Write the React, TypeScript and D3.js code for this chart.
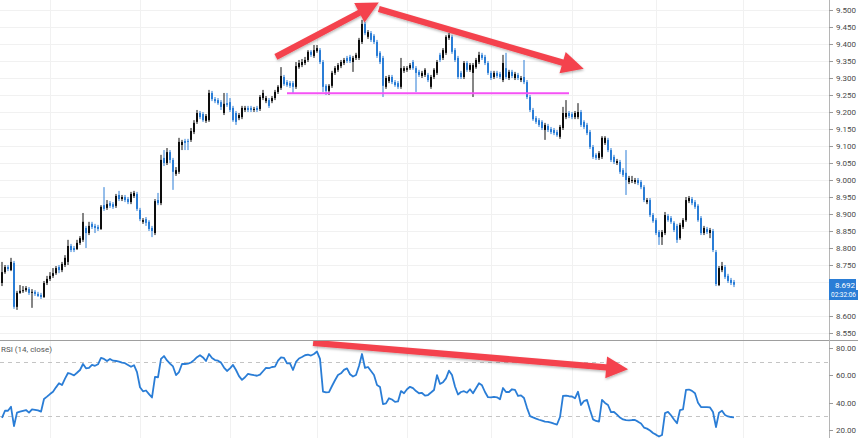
import React from 'react';
import * as d3 from 'd3';

const opens = [
  8.697, 8.729, 8.744, 8.735, 8.756, 8.627, 8.668, 8.674, 8.676, 8.679,
  8.668, 8.671, 8.665, 8.662, 8.656, 8.697, 8.709, 8.718, 8.726, 8.744,
  8.735, 8.750, 8.759, 8.806, 8.800, 8.797, 8.815, 8.824, 8.859, 8.844,
  8.871, 8.865, 8.862, 8.856, 8.926, 8.918, 8.932, 8.929, 8.924, 8.956,
  8.944, 8.950, 8.944, 8.935, 8.953, 8.959, 8.912, 8.877, 8.885, 8.877,
  8.859, 8.844, 8.941, 8.932, 9.065, 9.050, 9.082, 9.059, 9.018, 9.024,
  9.103, 9.115, 9.115, 9.118, 9.141, 9.171, 9.197, 9.194, 9.174, 9.176,
  9.256, 9.238, 9.235, 9.229, 9.197, 9.226, 9.229, 9.212, 9.197, 9.182,
  9.185, 9.206, 9.212, 9.212, 9.206, 9.212, 9.209, 9.241, 9.232, 9.235,
  9.232, 9.241, 9.259, 9.271, 9.303, 9.288, 9.285, 9.285, 9.274, 9.332,
  9.338, 9.344, 9.353, 9.377, 9.365, 9.379, 9.382, 9.347, 9.277, 9.262,
  9.277, 9.315, 9.324, 9.335, 9.344, 9.359, 9.362, 9.347, 9.359, 9.359,
  9.406, 9.459, 9.421, 9.432, 9.424, 9.406, 9.374, 9.359, 9.274, 9.291,
  9.303, 9.288, 9.285, 9.274, 9.321, 9.324, 9.329, 9.347, 9.329, 9.318,
  9.306, 9.309, 9.309, 9.274, 9.303, 9.315, 9.368, 9.359, 9.374, 9.418,
  9.421, 9.382, 9.359, 9.315, 9.303, 9.344, 9.324, 9.315, 9.332, 9.347,
  9.368, 9.362, 9.344, 9.315, 9.303, 9.315, 9.312, 9.294, 9.329, 9.300,
  9.318, 9.300, 9.309, 9.294, 9.303, 9.288, 9.244, 9.206, 9.182, 9.176,
  9.171, 9.147, 9.159, 9.150, 9.147, 9.141, 9.127, 9.153, 9.185, 9.197,
  9.194, 9.185, 9.185, 9.200, 9.171, 9.162, 9.141, 9.097, 9.074, 9.065,
  9.068, 9.109, 9.118, 9.088, 9.068, 9.050, 9.053, 9.029, 9.021, 8.994,
  8.997, 8.994, 9.000, 8.994, 8.979, 8.935, 8.941, 8.897, 8.882, 8.847,
  8.832, 8.844, 8.894, 8.888, 8.874, 8.865, 8.829, 8.862, 8.882, 8.938,
  8.944, 8.935, 8.924, 8.888, 8.844, 8.856, 8.844, 8.850, 8.788, 8.691,
  8.735, 8.744, 8.718, 8.706, 8.700,
];

const highs = [
  8.759, 8.750, 8.750, 8.771, 8.762, 8.674, 8.691, 8.688, 8.688, 8.685,
  8.679, 8.676, 8.671, 8.668, 8.703, 8.718, 8.729, 8.741, 8.747, 8.750,
  8.759, 8.779, 8.824, 8.812, 8.806, 8.824, 8.835, 8.903, 8.865, 8.877,
  8.877, 8.871, 8.868, 8.926, 8.979, 8.941, 8.938, 8.935, 8.959, 8.968,
  8.956, 8.956, 8.950, 8.965, 8.968, 8.965, 8.918, 8.888, 8.891, 8.882,
  8.865, 8.944, 8.962, 9.074, 9.088, 9.094, 9.088, 9.065, 9.038, 9.124,
  9.118, 9.121, 9.121, 9.153, 9.176, 9.206, 9.203, 9.200, 9.194, 9.265,
  9.262, 9.244, 9.241, 9.235, 9.256, 9.256, 9.241, 9.218, 9.203, 9.197,
  9.218, 9.218, 9.218, 9.218, 9.215, 9.218, 9.250, 9.265, 9.247, 9.241,
  9.247, 9.265, 9.279, 9.332, 9.309, 9.294, 9.291, 9.291, 9.347, 9.353,
  9.356, 9.362, 9.382, 9.382, 9.397, 9.397, 9.388, 9.353, 9.282, 9.282,
  9.321, 9.335, 9.344, 9.353, 9.359, 9.365, 9.368, 9.365, 9.374, 9.418,
  9.471, 9.465, 9.441, 9.438, 9.429, 9.412, 9.379, 9.365, 9.306, 9.309,
  9.309, 9.294, 9.291, 9.359, 9.335, 9.335, 9.344, 9.353, 9.335, 9.324,
  9.321, 9.329, 9.315, 9.309, 9.329, 9.353, 9.374, 9.388, 9.426, 9.432,
  9.426, 9.388, 9.365, 9.321, 9.350, 9.350, 9.344, 9.344, 9.359, 9.377,
  9.374, 9.368, 9.350, 9.321, 9.321, 9.321, 9.318, 9.368, 9.374, 9.324,
  9.324, 9.318, 9.315, 9.306, 9.353, 9.294, 9.250, 9.212, 9.188, 9.182,
  9.176, 9.168, 9.165, 9.156, 9.153, 9.147, 9.162, 9.215, 9.235, 9.203,
  9.200, 9.203, 9.226, 9.206, 9.176, 9.168, 9.147, 9.103, 9.079, 9.085,
  9.129, 9.129, 9.124, 9.094, 9.074, 9.062, 9.059, 9.035, 9.088, 9.012,
  9.012, 9.006, 9.006, 9.000, 8.985, 8.947, 8.947, 8.903, 8.888, 8.853,
  8.853, 8.906, 8.900, 8.894, 8.879, 8.871, 8.874, 8.888, 8.950, 8.953,
  8.950, 8.941, 8.929, 8.894, 8.865, 8.862, 8.859, 8.856, 8.794, 8.747,
  8.759, 8.750, 8.724, 8.712, 8.706,
];

const lows = [
  8.688, 8.724, 8.732, 8.732, 8.621, 8.618, 8.665, 8.668, 8.671, 8.662,
  8.624, 8.659, 8.656, 8.650, 8.653, 8.691, 8.703, 8.712, 8.721, 8.726,
  8.729, 8.744, 8.750, 8.788, 8.788, 8.794, 8.809, 8.818, 8.800, 8.838,
  8.856, 8.844, 8.850, 8.853, 8.909, 8.912, 8.918, 8.915, 8.918, 8.938,
  8.938, 8.935, 8.929, 8.929, 8.947, 8.909, 8.879, 8.871, 8.865, 8.850,
  8.832, 8.838, 8.926, 8.926, 9.041, 9.044, 9.050, 8.971, 9.012, 9.018,
  9.088, 9.088, 9.088, 9.112, 9.135, 9.165, 9.179, 9.171, 9.168, 9.171,
  9.232, 9.226, 9.221, 9.206, 9.191, 9.215, 9.200, 9.171, 9.162, 9.176,
  9.179, 9.200, 9.200, 9.200, 9.200, 9.200, 9.203, 9.235, 9.226, 9.212,
  9.226, 9.235, 9.253, 9.265, 9.277, 9.274, 9.271, 9.256, 9.268, 9.327,
  9.332, 9.338, 9.347, 9.362, 9.359, 9.374, 9.341, 9.259, 9.250, 9.250,
  9.271, 9.309, 9.318, 9.329, 9.338, 9.344, 9.344, 9.318, 9.353, 9.353,
  9.400, 9.426, 9.415, 9.406, 9.400, 9.359, 9.341, 9.244, 9.268, 9.285,
  9.282, 9.274, 9.268, 9.268, 9.315, 9.318, 9.324, 9.324, 9.259, 9.303,
  9.300, 9.303, 9.288, 9.268, 9.297, 9.309, 9.347, 9.353, 9.368, 9.412,
  9.371, 9.347, 9.297, 9.297, 9.297, 9.318, 9.318, 9.244, 9.327, 9.341,
  9.353, 9.338, 9.309, 9.294, 9.297, 9.300, 9.297, 9.288, 9.297, 9.294,
  9.300, 9.294, 9.294, 9.288, 9.282, 9.238, 9.200, 9.174, 9.165, 9.156,
  9.147, 9.118, 9.141, 9.135, 9.132, 9.127, 9.121, 9.147, 9.179, 9.182,
  9.179, 9.179, 9.179, 9.156, 9.150, 9.132, 9.091, 9.062, 9.059, 9.059,
  9.062, 9.103, 9.082, 9.053, 9.047, 9.044, 9.018, 9.009, 8.956, 8.988,
  8.991, 8.988, 8.985, 8.973, 8.935, 8.929, 8.891, 8.874, 8.838, 8.809,
  8.809, 8.838, 8.877, 8.871, 8.847, 8.815, 8.824, 8.856, 8.877, 8.932,
  8.926, 8.915, 8.877, 8.838, 8.838, 8.841, 8.829, 8.788, 8.688, 8.688,
  8.729, 8.709, 8.697, 8.691, 8.685,
];

const closes = [
  8.729, 8.744, 8.738, 8.759, 8.627, 8.668, 8.674, 8.676, 8.682, 8.668,
  8.671, 8.665, 8.659, 8.656, 8.697, 8.709, 8.718, 8.726, 8.741, 8.735,
  8.753, 8.771, 8.806, 8.794, 8.794, 8.815, 8.829, 8.877, 8.844, 8.865,
  8.862, 8.859, 8.856, 8.921, 8.915, 8.929, 8.924, 8.921, 8.953, 8.944,
  8.950, 8.941, 8.935, 8.959, 8.962, 8.915, 8.885, 8.882, 8.874, 8.856,
  8.850, 8.938, 8.932, 9.059, 9.050, 9.082, 9.059, 9.024, 9.029, 9.112,
  9.112, 9.109, 9.112, 9.144, 9.168, 9.197, 9.185, 9.176, 9.188, 9.256,
  9.238, 9.232, 9.226, 9.215, 9.224, 9.221, 9.206, 9.176, 9.171, 9.191,
  9.212, 9.212, 9.206, 9.206, 9.209, 9.206, 9.244, 9.256, 9.241, 9.218,
  9.241, 9.259, 9.274, 9.306, 9.282, 9.279, 9.277, 9.274, 9.335, 9.344,
  9.347, 9.353, 9.377, 9.368, 9.382, 9.388, 9.347, 9.274, 9.262, 9.277,
  9.315, 9.329, 9.338, 9.347, 9.353, 9.350, 9.350, 9.359, 9.368, 9.412,
  9.459, 9.432, 9.435, 9.412, 9.406, 9.365, 9.347, 9.277, 9.300, 9.303,
  9.288, 9.279, 9.274, 9.329, 9.329, 9.329, 9.338, 9.329, 9.315, 9.309,
  9.315, 9.324, 9.294, 9.303, 9.324, 9.347, 9.353, 9.382, 9.421, 9.426,
  9.377, 9.353, 9.303, 9.303, 9.344, 9.324, 9.338, 9.338, 9.353, 9.368,
  9.359, 9.344, 9.315, 9.300, 9.315, 9.306, 9.303, 9.344, 9.303, 9.318,
  9.306, 9.312, 9.300, 9.300, 9.288, 9.244, 9.206, 9.179, 9.171, 9.162,
  9.153, 9.162, 9.147, 9.141, 9.138, 9.132, 9.156, 9.197, 9.197, 9.188,
  9.185, 9.197, 9.200, 9.162, 9.156, 9.138, 9.097, 9.068, 9.065, 9.079,
  9.124, 9.124, 9.088, 9.059, 9.053, 9.056, 9.024, 9.015, 9.000, 9.006,
  9.000, 9.000, 8.991, 8.979, 8.941, 8.941, 8.897, 8.879, 8.844, 8.832,
  8.847, 8.897, 8.882, 8.877, 8.853, 8.824, 8.868, 8.882, 8.941, 8.947,
  8.932, 8.921, 8.882, 8.844, 8.859, 8.847, 8.853, 8.794, 8.694, 8.741,
  8.747, 8.715, 8.703, 8.697, 8.692,
];

const rsiValues = [
  28.9, 34.1, 34.1, 37.0, 22.9, 32.7, 33.4, 34.0, 34.6, 32.7,
  35.1, 34.8, 34.3, 33.4, 42.7, 44.4, 46.3, 48.0, 51.2, 54.2,
  52.9, 57.6, 61.7, 61.0, 60.0, 61.9, 63.9, 68.3, 65.1, 65.4,
  67.6, 67.0, 68.1, 72.7, 72.0, 70.5, 72.0, 70.7, 70.5, 70.0,
  69.3, 68.9, 67.6, 66.3, 67.4, 62.4, 51.3, 48.3, 48.9, 46.3,
  43.8, 58.8, 58.6, 72.0, 74.1, 70.9, 68.6, 66.5, 60.2, 62.4,
  68.3, 68.3, 68.6, 69.4, 71.1, 73.3, 74.7, 73.1, 70.5, 75.6,
  72.7, 71.2, 70.7, 69.3, 65.7, 63.2, 65.1, 67.6, 63.9, 59.4,
  56.7, 58.6, 61.0, 60.6, 60.1, 59.7, 60.5, 63.0, 65.4, 65.2,
  66.1, 66.3, 70.7, 73.2, 72.8, 68.8, 68.8, 63.9, 69.8, 72.3,
  73.4, 74.7, 75.1, 74.5, 75.6, 77.4, 72.0, 48.1, 47.5, 47.7,
  52.2, 56.4, 60.2, 61.5, 64.0, 65.1, 60.8, 59.1, 60.2, 66.8,
  75.6, 65.4, 66.1, 63.2, 60.2, 52.9, 51.5, 39.0, 39.5, 43.2,
  42.3, 40.6, 40.9, 48.5, 46.9, 49.8, 51.6, 50.6, 48.5, 46.9,
  47.1, 45.1, 45.6, 47.4, 49.3, 60.2, 53.7, 54.9, 57.8, 63.4,
  60.2, 51.8, 46.0, 47.8, 48.4, 47.3, 49.8, 46.9, 50.5, 54.2,
  52.7, 47.8, 44.0, 43.8, 44.2, 43.9, 42.5, 50.7, 47.8, 47.8,
  49.8, 49.3, 44.9, 45.3, 43.4, 36.2, 30.2, 29.2, 28.3, 27.5,
  26.8, 26.1, 25.9, 25.4, 24.6, 24.0, 29.5, 44.9, 45.2, 44.7,
  44.5, 43.2, 48.0, 38.3, 41.2, 42.0, 34.6, 27.8, 26.6, 26.1,
  42.0, 39.8, 38.3, 33.1, 33.2, 31.3, 29.1, 27.7, 27.2, 27.0,
  27.3, 27.3, 26.1, 24.8, 21.8, 21.0, 19.6, 17.8, 16.6, 15.2,
  16.3, 32.4, 33.2, 30.8, 27.7, 24.9, 34.6, 35.1, 49.3, 49.6,
  48.6, 46.9, 40.0, 36.8, 36.7, 36.8, 36.5, 33.2, 22.2, 32.7,
  34.1, 31.0, 29.9, 29.5, 29.3,
];

const priceTicks = [9.5, 9.45, 9.4, 9.35, 9.3, 9.25, 9.2, 9.15, 9.1, 9.05, 9.0, 8.95, 8.9, 8.85, 8.8, 8.75, 8.7, 8.65, 8.6, 8.55];
const rsiTicks = [80, 60, 40, 20];
const rsiBands = [70, 30];
const timeGridIdx = [16, 46, 76, 105, 135, 163, 190, 218, 247];
const supportLevel = 9.255;
const supportRange = [95, 189];
const countdown = '02:32:06';
const rsiTitle = 'RSI (14, close)';
// arrows: [fromIndex, fromValue, toIndex, toValue]
const priceArrows = [
  [91.3, 9.362, 125.6, 9.522],
  [125.6, 9.503, 193.9, 9.327],
];
const rsiArrows = [[103.7, 83.7, 208.7, 64.5]];

const W = 858;
const H = 438;
const AXIS_X = 829;
const SPLIT_Y = 340;
const UP = '#0d0d0d';
const DOWN = '#2a7dd6';
const FONT = 'Roboto, Arial, sans-serif';

function arrowPath(x1: number, y1: number, x2: number, y2: number) {
  const dx = x2 - x1, dy = y2 - y1;
  const len = Math.hypot(dx, dy);
  const ux = dx / len, uy = dy / len;
  const nx = -uy, ny = ux;
  const headLen = 22, headW = 11, shaftW = 3.2;
  const bx = x2 - ux * headLen, by = y2 - uy * headLen;
  const pts = [
    [x1 + nx * shaftW, y1 + ny * shaftW],
    [bx + nx * shaftW, by + ny * shaftW],
    [bx + nx * headW, by + ny * headW],
    [x2, y2],
    [bx - nx * headW, by - ny * headW],
    [bx - nx * shaftW, by - ny * shaftW],
    [x1 - nx * shaftW, y1 - ny * shaftW],
  ];
  return 'M' + pts.map(p => p[0].toFixed(1) + ',' + p[1].toFixed(1)).join('L') + 'Z';
}

export default function App() {
  const n = closes.length;
  const x = d3.scaleLinear().domain([0, n - 1]).range([2, 734]);
  const yP = d3.scaleLinear().domain([8.5294, 9.5294]).range([SPLIT_Y, 0]);
  const yR = d3.scaleLinear().domain([14.146, 85.122]).range([H, SPLIT_Y + 1]);

  const rsiLine = d3.line<number>()
    .x((_, i) => x(i))
    .y(d => yR(d))
    .curve(d3.curveLinear)(rsiValues) || '';

  const last = closes[n - 1];
  const lastY = Math.round(yP(last));
  // axis labels hidden behind the last-price badge
  const visibleTicks = priceTicks.filter(t => {
    const yy = yP(t);
    return yy < lastY - 9 || yy > lastY + 19;
  });

  return (
    <svg width={W} height={H} style={{ position: 'absolute', left: 0, top: 0, background: '#fff' }} fontFamily={FONT}>
      <defs>
        <clipPath id="pricePane"><rect x={0} y={0} width={AXIS_X} height={SPLIT_Y} /></clipPath>
        <clipPath id="rsiPane"><rect x={0} y={SPLIT_Y + 1} width={AXIS_X} height={H - SPLIT_Y - 1} /></clipPath>
        <filter id="shadow" x="-10%" y="-50%" width="120%" height="200%">
          <feDropShadow dx="0.5" dy="1.5" stdDeviation="1.2" floodColor="#000" floodOpacity="0.28" />
        </filter>
      </defs>
      <rect x={0} y={0} width={W} height={H} fill="#fff" />

      {/* grid */}
      {priceTicks.map(t => (
        <line key={'hg' + t} x1={0} x2={AXIS_X} y1={Math.round(yP(t)) + 0.5} y2={Math.round(yP(t)) + 0.5} stroke="#f1f1f1" />
      ))}
      {timeGridIdx.map(i => (
        <line key={'vg' + i} x1={Math.round(x(i)) + 0.5} x2={Math.round(x(i)) + 0.5} y1={0} y2={H} stroke="#f1f1f1" />
      ))}

      {/* candles */}
      <g clipPath="url(#pricePane)">
        {closes.map((c, i) => {
          const o = opens[i];
          const up = c >= o;
          const col = up ? UP : DOWN;
          const cx = Math.round(x(i));
          const yTop = yP(Math.max(o, c));
          const yBot = yP(Math.min(o, c));
          return (
            <g key={'c' + i}>
              <line x1={cx} x2={cx} y1={yP(highs[i])} y2={yP(lows[i])} stroke={col} strokeWidth={1} />
              <rect x={cx - 1} y={yTop} width={2} height={Math.max(1, yBot - yTop)} fill={col} />
            </g>
          );
        })}
        <line x1={x(supportRange[0])} x2={x(supportRange[1])} y1={yP(supportLevel)} y2={yP(supportLevel)} stroke="#f552f5" strokeWidth={2} />
        {priceArrows.map((a, k) => (
          <path key={'pa' + k} d={arrowPath(x(a[0]), yP(a[1]), x(a[2]), yP(a[3]))} fill="#f4434d" filter="url(#shadow)" />
        ))}
      </g>

      {/* RSI pane */}
      <g clipPath="url(#rsiPane)">
        {rsiBands.map(b => (
          <line key={'rb' + b} x1={0} x2={AXIS_X} y1={Math.round(yR(b)) + 0.5} y2={Math.round(yR(b)) + 0.5} stroke="#c4c4c4" strokeDasharray="4 4" />
        ))}
        <path d={rsiLine} fill="none" stroke={DOWN} strokeWidth={1.8} strokeLinejoin="round" />
        {rsiArrows.map((a, k) => (
          <path key={'ra' + k} d={arrowPath(x(a[0]), yR(a[1]), x(a[2]), yR(a[3]))} fill="#f4434d" filter="url(#shadow)" />
        ))}
      </g>
      <text x={1} y={352} fontSize={8} fill="#555">{rsiTitle}</text>

      {/* separators and axes */}
      <line x1={0} x2={W} y1={SPLIT_Y + 0.5} y2={SPLIT_Y + 0.5} stroke="#9e9e9e" />
      <line x1={AXIS_X + 0.5} x2={AXIS_X + 0.5} y1={0} y2={H} stroke="#b5b5b5" />

      {visibleTicks.map(t => {
        const yy = Math.round(yP(t)) + 0.5;
        return (
          <g key={'pt' + t}>
            <line x1={AXIS_X} x2={AXIS_X + 4} y1={yy} y2={yy} stroke="#9a9a9a" />
            <text x={836} y={yy} dy="0.34em" fontSize={8} fill="#4a4a4a">{d3.format('.3f')(t)}</text>
          </g>
        );
      })}
      {rsiTicks.map(t => {
        const yy = Math.round(yR(t)) + 0.5;
        return (
          <g key={'rt' + t}>
            <line x1={AXIS_X} x2={AXIS_X + 4} y1={yy} y2={yy} stroke="#9a9a9a" />
            <text x={836} y={yy} dy="0.34em" fontSize={8} fill="#4a4a4a">{d3.format('.2f')(t)}</text>
          </g>
        );
      })}

      {/* last price label */}
      <rect x={AXIS_X} y={lastY - 6} width={27} height={11} fill={DOWN} />
      <text x={835} y={lastY} dy="0.34em" fontSize={8} fill="#fff">{d3.format('.3f')(last)}</text>
      <rect x={AXIS_X} y={lastY + 5} width={29} height={10} fill={DOWN} />
      <text x={831} y={lastY + 10} dy="0.34em" fontSize={7} textLength={25} lengthAdjust="spacingAndGlyphs" fill="#fff">{countdown}</text>
    </svg>
  );
}
